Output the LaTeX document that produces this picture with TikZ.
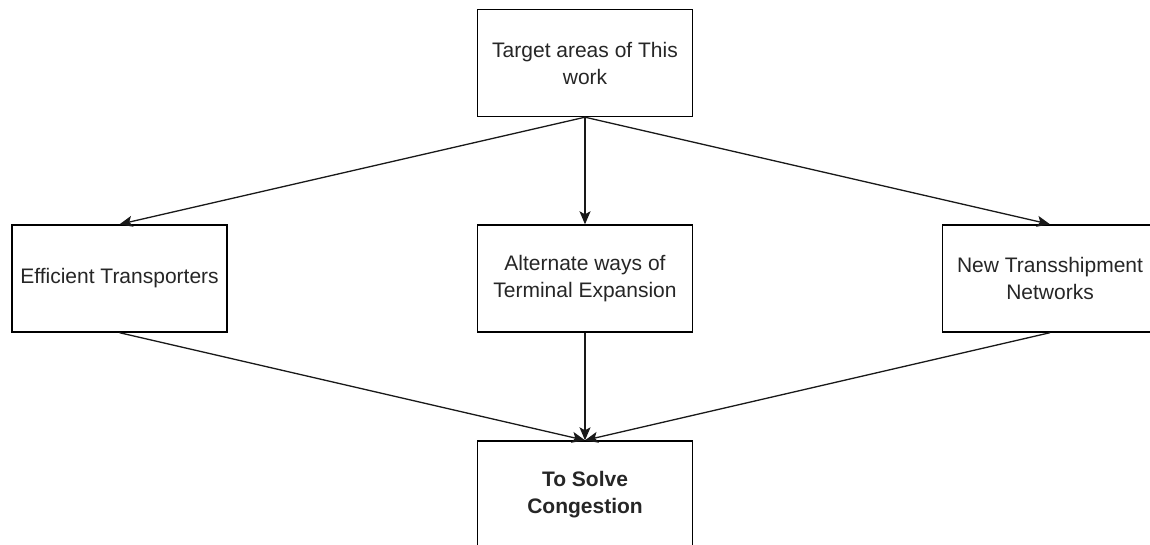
\documentclass[tikz,border=0pt]{standalone}
\usepackage{fontspec}
\setmainfont{Liberation Sans}
\usetikzlibrary{arrows.meta}
\begin{document}
\begin{tikzpicture}[x=1pt,y=-1pt,
  box/.style={draw=black,line width=1.4pt,fill=white,minimum width=215pt,minimum height=107pt,
    inner sep=0pt,align=center,font=\fontsize{21}{27}\selectfont,text=black!85},
  link/.style={draw=black!90,line width=1.3pt,-{Stealth[length=13pt,width=11pt,inset=3pt]}}]
  \useasboundingbox (0,0) rectangle (1150,545);
  \clip (0,0) rectangle (1150,545);
  \fill[white] (0,0) rectangle (1150,545);
  % boxes
  \node[box] (goal) at (585,63) {Target areas of This\\work};
  \node[box] (eff)  at (119.5,278.5) {Efficient Transporters};
  \node[box] (alt)  at (585,278.5) {Alternate ways of\\Terminal Expansion};
  \node[box] (net)  at (1050,278.5) {New Transshipment\\Networks};
  \node[box,font=\fontsize{21}{27}\selectfont\bfseries] (solve) at (585,494.5) {To Solve\\Congestion};
  % connectors
  \draw[link] (goal.south) -- (eff.north);
  \draw[link] (goal.south) -- (alt.north);
  \draw[link] (goal.south) -- (net.north);
  \draw[link] (eff.south) -- (solve.north);
  \draw[link] (alt.south) -- (solve.north);
  \draw[link] (net.south) -- (solve.north);
\end{tikzpicture}
\end{document}
